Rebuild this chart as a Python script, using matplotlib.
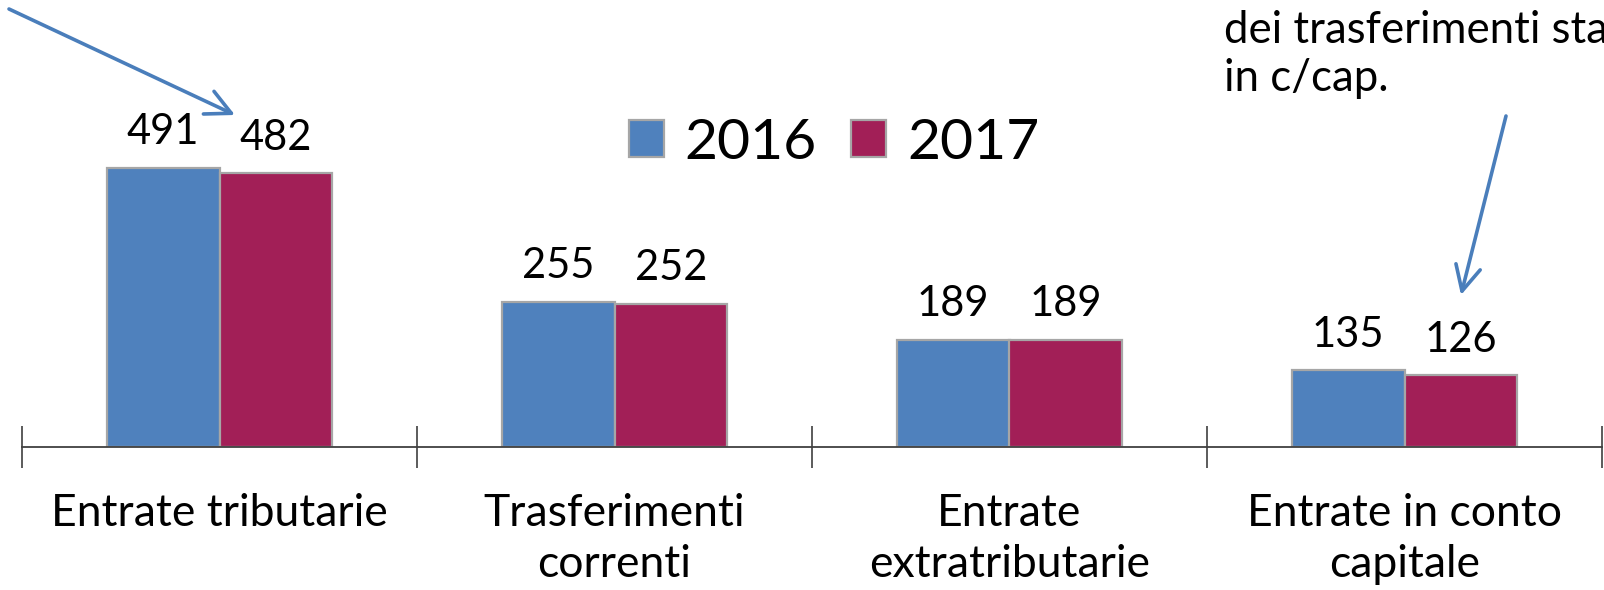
import matplotlib.pyplot as plt
import numpy as np

categories = ["Entrate tributarie", "Trasferimenti\ncorrenti",
              "Entrate\nextratributarie", "Entrate in conto\ncapitale"]
years = ["2016", "2017"]
values_2016 = [491, 255, 189, 135]
values_2017 = [482, 252, 189, 126]

C_2016 = "#4F81BD"
C_2017 = "#A21F57"
C_EDGE = "#A6A6A6"
C_AXIS = "#404040"
C_ARROW = "#4A7EBB"

plt.rcParams["font.family"] = ["Lato", "DejaVu Sans"]

W, H = 1604, 590
fig = plt.figure(figsize=(W / 100, H / 100), dpi=100)
ax = fig.add_axes([22 / W, 1 - 447 / H, 1580 / W, 447 / H])

x = np.arange(len(categories))
bw = 0.286
b1 = ax.bar(x - bw / 2, values_2016, bw, color=C_2016, edgecolor=C_EDGE,
            linewidth=1.6, label=years[0], zorder=3)
b2 = ax.bar(x + bw / 2, values_2017, bw, color=C_2017, edgecolor=C_EDGE,
            linewidth=1.6, label=years[1], zorder=3)

for bars in (b1, b2):
    for rect in bars:
        ax.annotate(f"{rect.get_height():.0f}",
                    xy=(rect.get_x() + rect.get_width() / 2, rect.get_height()),
                    xytext=(0, 12), textcoords="offset points",
                    ha="center", va="bottom", fontsize=30)

ax.set_xlim(-0.5, len(categories) - 0.5)
ax.set_ylim(0, 787)

for s in ("top", "left", "right"):
    ax.spines[s].set_visible(False)
ax.spines["bottom"].set_color(C_AXIS)
ax.spines["bottom"].set_linewidth(1.3)
ax.spines["bottom"].set_zorder(4)
ax.set_yticks([])

ax.set_xticks(np.arange(-0.5, len(categories)), minor=False)
ax.set_xticklabels([])
ax.tick_params(axis="x", which="major", direction="inout", length=30,
               width=1.2, color=C_AXIS)
ax.set_xticks(x, minor=True)
ax.set_xticklabels(categories, minor=True, fontsize=32, linespacing=1.3)
ax.tick_params(axis="x", which="minor", length=0, pad=33)

fig.legend(handles=[b1, b2], labels=years, loc="center",
           bbox_to_anchor=(834 / W, 1 - 143 / H), ncol=2, frameon=False,
           fontsize=41, handlelength=0.62, handleheight=0.62,
           handletextpad=0.36, columnspacing=0.6)

# Annotation arrows and (partially cropped) notes
fig.text(1224 / W, 1 - 10 / H, "dei trasferimenti statali\nin c/cap.",
         ha="left", va="top", fontsize=31.5, linespacing=1.22)
fig.text(388 / W, 1 + 26 / H, ",", ha="left", va="bottom", fontsize=30)

arrow_kw = dict(arrowstyle="->,head_length=0.9,head_width=0.45",
                color=C_ARROW, lw=2.6, shrinkA=0, shrinkB=0)
fig.add_artist(plt.matplotlib.patches.FancyArrowPatch(
    (9 / W, 1 - 9 / H), (235 / W, 1 - 115 / H),
    transform=fig.transFigure, mutation_scale=20, **arrow_kw))
fig.add_artist(plt.matplotlib.patches.FancyArrowPatch(
    (1506 / W, 1 - 116 / H), (1461 / W, 1 - 295 / H),
    transform=fig.transFigure, mutation_scale=20, **arrow_kw))

fig.savefig("out.png", dpi=100)
